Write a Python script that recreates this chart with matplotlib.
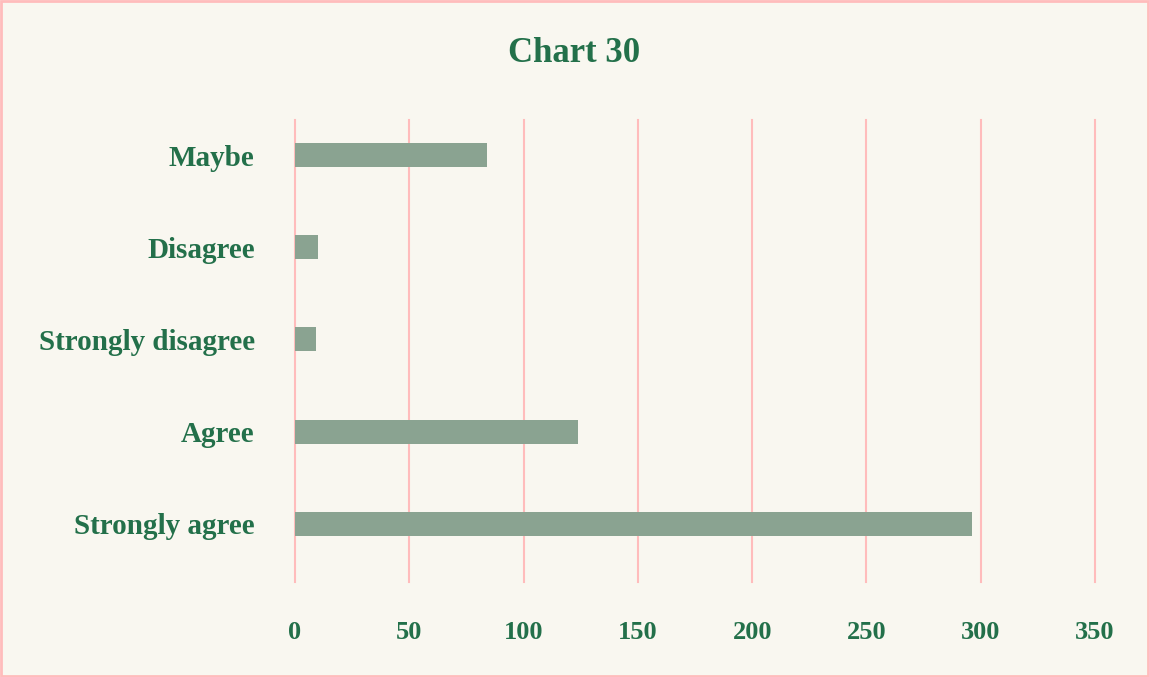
import matplotlib.pyplot as plt
from matplotlib.patches import Rectangle


categories = ["Strongly agree", "Agree", "Strongly disagree", "Disagree", "Maybe"]
counts = [296, 124, 9, 10, 84]
x_ticks = [0, 50, 100, 150, 200, 250, 300, 350]

BG = "#f9f7f0"
PINK = "#ffbcbc"
GREEN = "#23704a"
BAR = "#8aa391"


def plot_chart():
    fig = plt.figure(figsize=(11.49, 6.77), dpi=100, facecolor=BG)
    ax = fig.add_axes([295 / 1149, 1 - 582 / 677, 800 / 1149, 462 / 677])
    ax.set_facecolor(BG)

    ax.barh(range(len(categories)), counts, height=0.26, color=BAR, zorder=3)

    ax.set_xlim(0, 350)
    ax.set_ylim(-0.63, len(categories) - 0.62)
    ax.set_xticks(x_ticks)
    ax.set_yticks(range(len(categories)))
    ax.set_yticklabels(categories)
    ax.grid(axis="x", color=PINK, linewidth=1.5, zorder=0)
    for gl in ax.get_xgridlines():
        gl.set_clip_on(False)

    for s in ax.spines.values():
        s.set_visible(False)
    ax.tick_params(length=0, colors=GREEN)
    for lbl in ax.get_yticklabels():
        lbl.set_fontfamily("Liberation Serif")
        lbl.set_fontweight("bold")
        lbl.set_fontsize(21)
        lbl.set_va("center_baseline")
    for lbl in ax.get_xticklabels():
        lbl.set_fontfamily("Liberation Serif")
        lbl.set_fontweight("bold")
        lbl.set_fontsize(19)
    ax.tick_params(axis="y", pad=29)
    ax.tick_params(axis="x", pad=28)

    fig.text(0.5, 1 - 54 / 677, "Chart 30", ha="center", va="center",
             fontsize=25, fontweight="bold", family="Liberation Serif", color=GREEN)

    fig.patches.append(Rectangle((0.001, 0.002), 0.998, 0.996, transform=fig.transFigure,
                                 fill=False, edgecolor=PINK, linewidth=2))

    fig.savefig("out.png", dpi=100, facecolor=BG)


if __name__ == "__main__":
    plot_chart()
